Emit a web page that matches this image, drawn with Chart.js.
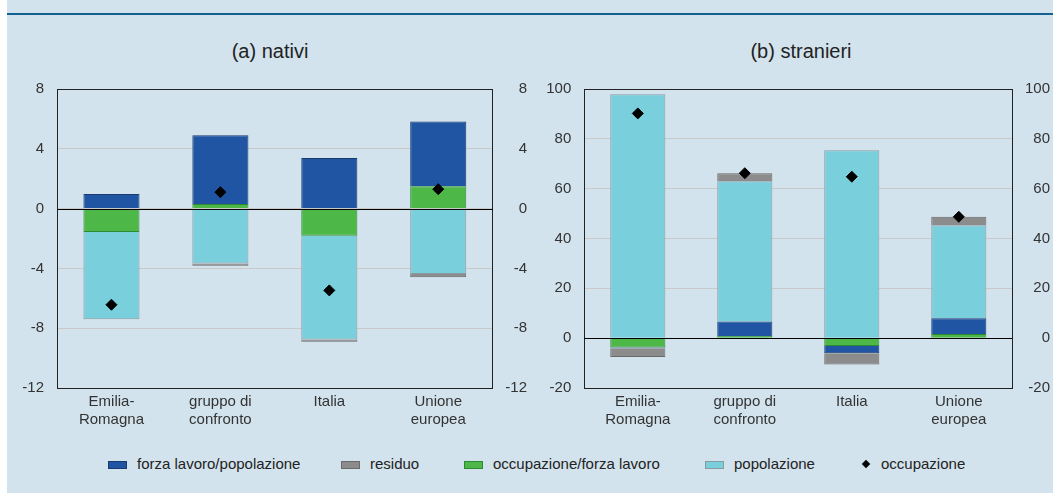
<!DOCTYPE html>
<html>
<head>
<meta charset="utf-8">
<script src="https://cdn.jsdelivr.net/npm/chart.js@4.4.0/dist/chart.umd.min.js"></script>
<style>
  body { margin: 0; width: 1053px; height: 493px; overflow: hidden; background: #fff;
         font-family: "Liberation Sans", Arial, sans-serif; position: relative; }
  #sfondo { position: absolute; left: 7px; top: 0; right: 0; bottom: 0; background: #d2e3ed; }
  #linea { position: absolute; left: 7px; right: 0; top: 13px; height: 2px; background: #14618f; }
  .titolo { position: absolute; top: 40px; font-size: 20px; color: #222; transform: translateX(-50%); white-space: nowrap; }
  canvas { position: absolute; }
  .voce { position: absolute; top: 455px; font-size: 15px; color: #222; white-space: nowrap; line-height: 18px; }
  .quadro { position: absolute; top: 461px; width: 17px; height: 6px; }
  .rombo { position: absolute; top: 461px; width: 6px; height: 6px; background: #000; transform: rotate(45deg); }
</style>
</head>
<body>
<div id="sfondo"></div>
<div id="linea"></div>
<div class="titolo" style="left:270px">(a) nativi</div>
<div class="titolo" style="left:801px">(b) stranieri</div>
<canvas id="nativi" width="540" height="373" style="left:0;top:67px"></canvas>
<canvas id="stranieri" width="513" height="373" style="left:540px;top:67px"></canvas>
<div id="legenda"></div>

<script>
// categorie
const categorie = [["Emilia-", "Romagna"], ["gruppo di", "confronto"], "Italia", ["Unione", "europea"]];

// (a) nativi
const occForzaNativi = [-1.57, 0.31, -1.82, 1.5];
const forzaPopNativi = [0.97, 4.6, 3.39, 4.33];
const popolazioneNativi = [-5.83, -3.68, -6.93, -4.37];
const residuoNativi = [null, -0.15, -0.16, -0.22];
const occupazioneNativi = [-6.43, 1.1, -5.47, 1.3];

// (b) stranieri
const occForzaStranieri = [-3.7, 0.9, -3.1, 1.7];
const forzaPopStranieri = [-0.3, 5.8, -3.0, 6.3];
const popolazioneStranieri = [97.9, 56.3, 75.4, 37.3];
const residuoStranieri = [-3.6, 3.2, -4.5, 3.4];
const occupazioneStranieri = [90.2, 66.2, 64.8, 48.7];

// tick degli assi
const tickNativi = { min: -12, max: 8, passo: 4 };
const tickStranieri = { min: -20, max: 100, passo: 20 };

const colori = {
  forza: ["#1f55a3", "#1a3a6e"],
  residuo: ["#8c8c8c", "#6a6a6a"],
  occForza: ["#4db848", "#2f8a34"],
  popolazione: ["#7acfdc", "#8a9aa2"]
};

Chart.defaults.font.family = "'Liberation Sans', Arial, sans-serif";
Chart.defaults.font.size = 15;
Chart.defaults.color = "#333";

// linea dello zero sopra le barre
const lineaZero = {
  id: "lineaZero",
  afterDatasetsDraw(chart) {
    const { ctx, chartArea, scales } = chart;
    const y = Math.round(scales.y.getPixelForValue(0)) + 0.5;
    ctx.save();
    ctx.strokeStyle = "#000";
    ctx.lineWidth = 1;
    ctx.beginPath();
    ctx.moveTo(chartArea.left, y);
    ctx.lineTo(chartArea.right, y);
    ctx.stroke();
    ctx.restore();
  }
};

function barra(label, dati, colore) {
  return {
    type: "bar", label: label, data: dati, order: 1,
    backgroundColor: colore[0], borderColor: colore[1], borderWidth: 1,
    barPercentage: 0.515, categoryPercentage: 1
  };
}

function creaGrafico(id, occForza, forzaPop, popolazione, residuo, occupazione, tick, largSx, largDx, margineDx) {
  return new Chart(document.getElementById(id), {
    data: {
      labels: categorie,
      datasets: [
        // ordine di impilamento: occupazione/forza lavoro, forza lavoro/popolazione, popolazione, residuo
        barra("occupazione/forza lavoro", occForza, colori.occForza),
        barra("forza lavoro/popolazione", forzaPop, colori.forza),
        barra("popolazione", popolazione, colori.popolazione),
        barra("residuo", residuo, colori.residuo),
        {
          type: "line", label: "occupazione", data: occupazione, order: 0,
          showLine: false, pointStyle: "rectRot", pointRadius: 5.5,
          backgroundColor: "#000", borderColor: "#000"
        }
      ]
    },
    options: {
      responsive: false, animation: false, devicePixelRatio: 1,
      layout: { padding: { top: 0, bottom: 0, left: 0, right: margineDx } },
      plugins: { legend: { display: false }, tooltip: { enabled: false } },
      scales: {
        x: {
          stacked: true,
          grid: { display: false, drawTicks: false },
          border: { display: true, color: "#222" },
          ticks: { padding: 5, maxRotation: 0, autoSkip: false, color: "#333" },
          afterFit: s => { s.height = 52; }
        },
        y: {
          stacked: true, min: tick.min, max: tick.max,
          ticks: { stepSize: tick.passo, padding: 13 },
          grid: {
            drawTicks: false,
            color: c => (c.tick.value === tick.max ? "#222" : "#c9c9c9")
          },
          border: { display: true, color: "#222" },
          afterFit: s => { s.width = largSx; }
        },
        y2: {
          position: "right", min: tick.min, max: tick.max,
          ticks: { stepSize: tick.passo, padding: 13, crossAlign: "far" },
          grid: { display: false, drawTicks: false },
          border: { display: true, color: "#222" },
          afterFit: s => { s.width = largDx; }
        }
      }
    },
    plugins: [lineaZero]
  });
}

creaGrafico("nativi", occForzaNativi, forzaPopNativi, popolazioneNativi, residuoNativi, occupazioneNativi, tickNativi, 57, 34.3, 13);
creaGrafico("stranieri", occForzaStranieri, forzaPopStranieri, popolazioneStranieri, residuoStranieri, occupazioneStranieri, tickStranieri, 44.3, 37.7, 3);

// legenda comune
const vociLegenda = [
  { testo: "forza lavoro/popolazione", colore: colori.forza, x: 108 },
  { testo: "residuo", colore: colori.residuo, x: 341 },
  { testo: "occupazione/forza lavoro", colore: colori.occForza, x: 464 },
  { testo: "popolazione", colore: colori.popolazione, x: 705 },
  { testo: "occupazione", colore: null, x: 863 }
];
const legenda = document.getElementById("legenda");
vociLegenda.forEach(v => {
  const segno = document.createElement("div");
  if (v.colore) {
    segno.className = "quadro";
    segno.style.left = v.x + "px";
    segno.style.background = v.colore[0];
    segno.style.border = "1px solid " + v.colore[1];
  } else {
    segno.className = "rombo";
    segno.style.left = v.x + "px";
  }
  legenda.appendChild(segno);
  const t = document.createElement("div");
  t.className = "voce";
  t.textContent = v.testo;
  t.style.left = (v.x + (v.colore ? 29 : 18)) + "px";
  legenda.appendChild(t);
});
</script>
</body>
</html>
